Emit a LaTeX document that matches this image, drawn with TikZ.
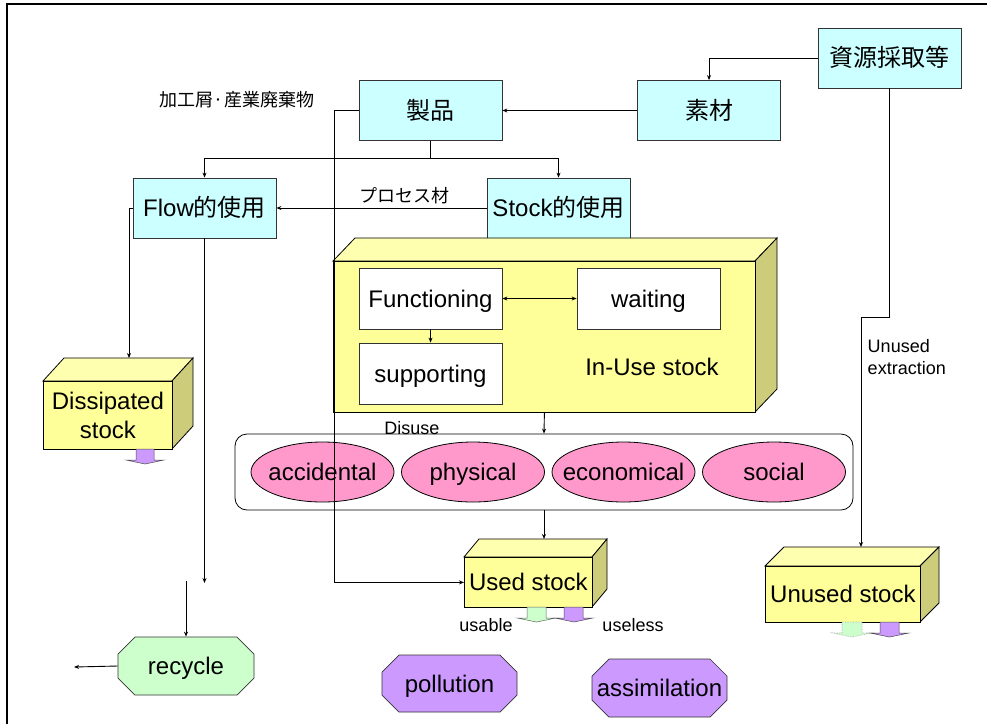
\documentclass[tikz,border=0pt]{standalone}
\usepackage{fontspec}
\setmainfont{Liberation Sans}
\newfontfamily\cjk{Noto Sans CJK JP}
\usetikzlibrary{shapes.geometric,arrows.meta}
\definecolor{cyanbox}{HTML}{CCFFFF}
\definecolor{yfront}{HTML}{FFFF99}
\definecolor{ytop}{HTML}{FFFFB0}
\definecolor{yside}{HTML}{CCCC7A}
\definecolor{pinkell}{HTML}{FF99CC}
\definecolor{greenoct}{HTML}{CCFFCC}
\definecolor{purpleoct}{HTML}{CC99FF}
\definecolor{edge}{HTML}{333333}
\tikzset{
  big/.style={font=\fontsize{24}{28}\selectfont},
  oneline/.style={big, text height=20pt, text depth=3pt},
  small/.style={font=\fontsize{18}{22}\selectfont},
  cbox/.style={draw=edge, fill=cyanbox, minimum width=143pt, minimum height=60pt, inner sep=0pt, oneline},
  wbox/.style={draw=edge, fill=white, minimum width=143pt, minimum height=61pt, inner sep=0pt, oneline},
  front/.style={draw=black, fill=yfront, inner sep=0pt, big, align=center},
  topf/.style={draw=black, fill=ytop},
  sidef/.style={draw=black, fill=yside},
  ell/.style={draw=black, fill=pinkell, ellipse, minimum width=143pt, minimum height=60pt, inner sep=0pt, oneline},
  conn/.style={draw=black, line width=0.9pt, -{Stealth[length=5pt,width=4pt]}},
  bconn/.style={draw=black, line width=0.9pt, {Stealth[length=5pt,width=4pt]}-{Stealth[length=5pt,width=4pt]}},
  greenarrow/.style={draw=gray!80!black, fill=greenoct, line width=0.5pt},
  greendot/.style={draw=gray!70, fill=greenoct, line width=0.6pt, densely dotted},
  purplearrow/.style={draw=gray!60!black, fill=purpleoct, line width=0.5pt},
}
% name, x1, y1, w, h, dx, dy, text
\newcommand\stockbox[8]{%
  \path[topf] (#2,#3) -- ++(#6,-#7) -- ++(#4,0) -- ++(-#6,#7) -- cycle;
  \path[sidef] ({#2+#4},#3) -- ++(#6,-#7) -- ++(0,#5) -- ++(-#6,#7) -- cycle;
  \node[front, minimum width=#4pt, minimum height=#5pt, anchor=north west] (#1) at (#2,#3) {#8};
}
% name, x1, y1, w, h, c, fill, text
\newcommand\octo[8]{%
  \filldraw[draw=edge, fill=#7, line width=0.7pt] ({#2+#6},#3) -- ({#2+#4-#6},#3) -- ({#2+#4},{#3+#6}) -- ({#2+#4},{#3+#5-#6}) -- ({#2+#4-#6},{#3+#5}) -- ({#2+#6},{#3+#5}) -- (#2,{#3+#5-#6}) -- (#2,{#3+#6}) -- cycle;
  \node[oneline, minimum width=#4pt, minimum height=#5pt, inner sep=0pt] (#1) at ({#2+#4/2},{#3+#5/2}) {#8};
}
% shaft left, shaft right, head left, head right, ytop, yhead, ytip, style
\newcommand\blockarrow[8]{%
  \path[#8] (#1,#5) -- (#2,#5) -- (#2,#6) -- (#4,#6) -- ({(#3+#4)/2},#7) -- (#3,#6) -- (#1,#6) -- cycle;
}
\begin{document}
\begin{tikzpicture}[x=1pt,y=-1pt, line width=0.8pt]
\useasboundingbox (0,0) rectangle (987,724);
\fill[white] (0,0) rectangle (987,724);
\draw[line width=2pt] (7,724) -- (7,4) -- (987,4);

% top boxes
\node[cbox] (src) at (889.5,58) {\cjk 資源採取等};
\node[cbox] (sozai) at (709,110.5) {\cjk 素材};
\node[cbox] (seihin) at (430.5,110.5) {\cjk 製品};
\node[cbox] (flow) at (204.5,208) {Flow{\cjk 的使用}};
\node[cbox] (stock) at (558.5,208) {Stock{\cjk 的使用}};

% in-use stock
\stockbox{inuse}{333}{261}{422}{151}{22}{23}{}
\node[wbox] (func) at (430.5,298.5) {Functioning};
\node[wbox] (wait) at (648.5,298.5) {waiting};
\node[wbox] (supp) at (430.5,373.5) {supporting};
\node[oneline] (inuselabel) at (652,367) {In-Use stock};

% dissipated
\stockbox{diss}{43}{381}{129}{68}{21}{23}{Dissipated\\[1pt]stock}
\blockarrow{136}{154}{126}{164}{449}{460}{464}{purplearrow}

% disuse
\node[draw=black, rounded corners=12pt, minimum width=618pt, minimum height=76pt, inner sep=0pt] (disuse) at (544,472) {};
\node[ell] (acc) at (322.5,472) {\makebox[0pt]{accidental}};
\node[ell] (phys) at (473,472) {\makebox[0pt]{physical}};
\node[ell] (econ) at (623.5,472) {\makebox[0pt]{economical}};
\node[ell] (soc) at (774,472) {\makebox[0pt]{social}};
\node[small] (disuselabel) at (412,428) {Disuse};

% used stock
\stockbox{used}{464}{557}{128}{50}{15}{18}{Used stock}
\blockarrow{527}{546}{517}{556}{607}{618}{622}{greenarrow}
\blockarrow{564}{583}{555}{593}{607}{618}{622}{purplearrow}
\node[small] (usable) at (486,625) {usable};
\node[small] (useless) at (633,625) {useless};

% unused stock
\stockbox{unused}{765}{566}{155}{56}{19}{19}{Unused stock}
\blockarrow{842}{862}{833}{871}{622}{633}{637}{greendot}
\blockarrow{880}{899}{870}{909}{622}{633}{637}{purplearrow}
\node[small, align=left, anchor=west] (unusedlabel) at (864,357) {Unused\\extraction};

% octagons
\octo{recycle}{118}{637}{136}{58}{17}{greenoct}{recycle}
\octo{pollution}{382}{655}{135}{57}{17}{purpleoct}{pollution}
\octo{assim}{592}{659}{135}{58}{17}{purpleoct}{assimilation}

% labels
\node[small] (kakou) at (237,100) {\cjk 加工屑·産業廃棄物};
\node[small] (process) at (404,196) {\cjk プロセス材};

% coordinates
\coordinate (disstop) at (129,358);
\coordinate (flowend) at (204.5,583);
\coordinate (recin) at (186,581);
\coordinate (recout) at (74,667);
\coordinate (usedtop) at (544,539);
\coordinate (unusedtop) at (861,547);

% connectors
\draw[conn] (src.west) -| (sozai.north);
\draw[conn] (sozai.west) -- (seihin.east);
\draw[conn] (seihin.south) -- ++(0,18) -| (flow.north);
\draw[conn] (seihin.south) -- ++(0,18) -| (stock.north);
\draw[conn] (stock.west) -- (flow.east);
\draw[conn] (seihin.west) -- ++(-24,0) |- (used.west);
\draw[conn] (flow.west) -| (disstop);
\draw[conn] (flow.south) -- (flowend);
\draw[conn] (recin) -- (recycle.north);
\draw[conn] (recycle.west) -- (recout);
\draw[conn] (inuse.south) -- (disuse.north);
\draw[conn] (disuse.south) -- (usedtop);
\draw[conn] (src.south) -- ++(0,229) -| (unusedtop);
\draw[bconn] (func.east) -- (wait.west);
\draw[conn] (func.south) -- (supp.north);
\end{tikzpicture}
\end{document}
